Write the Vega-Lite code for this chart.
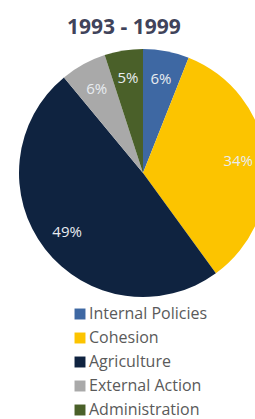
{
  "$schema": "https://vega.github.io/schema/vega-lite/v6.json",
  "width": 224,
  "height": 248,
  "autosize": {"type": "none"},
  "padding": {"left": 31, "top": 49, "right": 0, "bottom": 122},
  "background": "white",
  "title": {
    "text": "1993 - 1999",
    "font": "Open Sans",
    "fontSize": 21,
    "fontWeight": "bold",
    "color": "#40435a",
    "anchor": "start",
    "dx": 48,
    "offset": 11
  },
  "config": {"view": {"stroke": null}},
  "data": {
    "values": [
      {"category": "Internal Policies", "share": 6, "label": "6%", "order": 1},
      {"category": "Cohesion", "share": 34, "label": "34%", "order": 2},
      {"category": "Agriculture", "share": 49, "label": "49%", "order": 3},
      {"category": "External Action", "share": 6, "label": "6%", "order": 4},
      {"category": "Administration", "share": 5, "label": "5%", "order": 5}
    ]
  },
  "encoding": {
    "theta": {"field": "share", "type": "quantitative", "stack": true},
    "order": {"field": "order", "type": "quantitative"}
  },
  "layer": [
    {
      "mark": {"type": "arc", "outerRadius": 124},
      "encoding": {
        "color": {
          "field": "category",
          "type": "nominal",
          "sort": ["Internal Policies", "Cohesion", "Agriculture", "External Action", "Administration"],
          "scale": {
            "domain": ["Internal Policies", "Cohesion", "Agriculture", "External Action", "Administration"],
            "range": ["#3e68a3", "#fcc400", "#0f2340", "#a9a9a9", "#4a6029"]
          },
          "legend": {
            "title": null,
            "orient": "none",
            "legendX": 41,
            "legendY": 257,
            "symbolType": "square",
            "symbolSize": 120,
            "symbolStrokeWidth": 0,
            "labelFont": "Open Sans",
            "labelFontSize": 16,
            "labelColor": "#5a5a5a",
            "labelOffset": 1,
            "rowPadding": 8
          }
        }
      }
    },
    {
      "mark": {"type": "text", "radius": 96, "font": "Open Sans", "fontSize": 15, "color": "#e8ecf0"},
      "encoding": {"text": {"field": "label", "type": "nominal"}}
    }
  ]
}
